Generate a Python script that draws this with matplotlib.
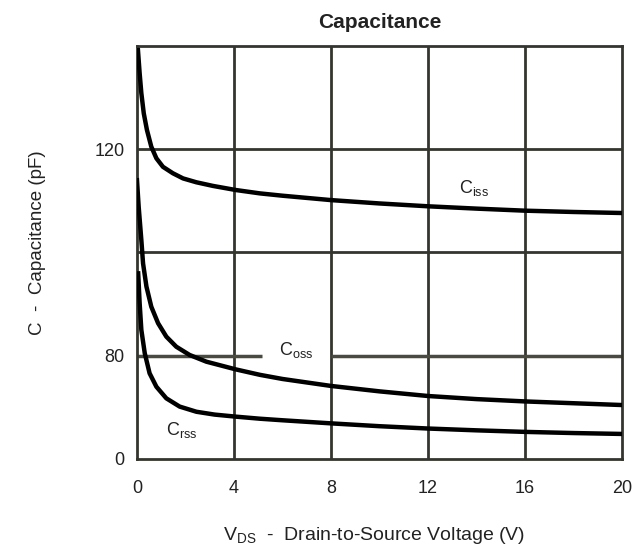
import matplotlib
matplotlib.use('Agg')
import matplotlib.pyplot as plt

plt.rcParams['font.family'] = ['Liberation Sans', 'DejaVu Sans']
plt.rcParams['mathtext.fontset'] = 'custom'
plt.rcParams['mathtext.rm'] = 'Liberation Sans'

# values (V, pF on the drawn 0..160 grid)
v_ciss = [0.04, 0.11, 0.18, 0.28, 0.41, 0.59, 0.8, 1.07, 1.48, 1.9, 2.45, 3.13, 4.08, 5.07, 6.0, 8.0,
          10.0, 12.0, 14.0, 16.0, 18.0, 20.0]
c_ciss = [158.4, 149.4, 141.7, 133.9, 127.5, 121, 116.5, 113.2, 110.7, 108.7, 107.2, 105.8, 104.2, 102.9,
          102.0, 100.3, 99.0, 97.9, 97.0, 96.2, 95.7, 95.3]

v_coss = [0.0, 0.07, 0.18, 0.25, 0.39, 0.59, 0.87, 1.21, 1.62, 2.17, 2.86, 4.08, 5.07, 6.0, 8.0,
          10.0, 12.0, 14.0, 16.0, 18.0, 20.0]
c_coss = [108, 97.7, 84.8, 75.8, 66.8, 59, 52.6, 47.4, 43.5, 40.3, 37.7, 34.7, 32.6, 31, 28.3,
          26.2, 24.4, 23.2, 22.3, 21.6, 20.9]

v_crss = [0.05, 0.11, 0.18, 0.32, 0.52, 0.8, 1.21, 1.76, 2.45, 3.2, 4.08, 5.07, 6.0, 8.0,
          10.0, 12.0, 14.0, 16.0, 18.0, 20.0]
c_crss = [71.9, 60.3, 50, 41, 33.2, 28, 23.5, 20.3, 18.3, 17.2, 16.4, 15.6, 15.0, 13.8,
          12.7, 11.8, 11.1, 10.5, 10.05, 9.7]

x_ticks = [0, 4, 8, 12, 16, 20]
x_labels = ['0', '4', '8', '12', '16', '20']
y_ticks = [0, 40, 120]
y_labels = ['0', '80', '120']

grid_col = '#35352f'

fig = plt.figure(figsize=(6.41, 5.51), dpi=100)
ax = fig.add_axes([0.2137, 0.167, 0.7566, 0.7495])

# grid lines (the 40 line is broken around the Coss label)
for x in [4, 8, 12, 16]:
    ax.axvline(x, color=grid_col, lw=2, zorder=1)
ax.hlines(120, 0, 20, color=grid_col, lw=2, zorder=1)
ax.hlines(80, 0, 20, color=grid_col, lw=2, zorder=1)
ax.hlines(40, 0, 5.17, color='#4a4a40', lw=2.5, zorder=1)
ax.hlines(40, 8, 20, color='#4a4a40', lw=2.5, zorder=1)

ax.plot(v_ciss, c_ciss, color='black', lw=3.2, solid_joinstyle='round', zorder=3)
ax.plot(v_coss, c_coss, color='black', lw=3.2, solid_joinstyle='round', zorder=3)
ax.plot(v_crss, c_crss, color='black', lw=3.2, solid_joinstyle='round', zorder=3)

ax.text(13.9, 105, r'C$_{\rm iss}$', fontsize=13, ha='center', va='center', color='#222222')
ax.text(6.57, 42.2, r'C$_{\rm oss}$', fontsize=13, ha='center', va='center', color='#222222')
ax.text(1.84, 11.2, r'C$_{\rm rss}$', fontsize=13, ha='center', va='center', color='#222222')

ax.set_xlim(0, 20)
ax.set_ylim(0, 160)
ax.set_xticks(x_ticks)
ax.set_xticklabels(x_labels)
ax.set_yticks(y_ticks)
ax.set_yticklabels(y_labels)
ax.tick_params(axis='x', length=0, pad=15, labelsize=13, labelcolor='#222222')
ax.tick_params(axis='y', length=0, pad=9, labelsize=13, labelcolor='#222222')
for s in ax.spines.values():
    s.set_color(grid_col)
    s.set_linewidth(2)

fig.text(0.593, 0.96, 'Capacitance', fontsize=15, fontweight='bold',
         ha='center', va='center', color='#222222')
fig.text(0.583, 0.029, r'V$_{\rm DS}$  -  Drain-to-Source Voltage (V)', fontsize=14,
         ha='center', va='center', color='#222222')
fig.text(0.058, 0.559, 'C  -  Capacitance (pF)', fontsize=13.5, rotation=90,
         ha='center', va='center', color='#222222')

fig.savefig('out.png', dpi=100)
